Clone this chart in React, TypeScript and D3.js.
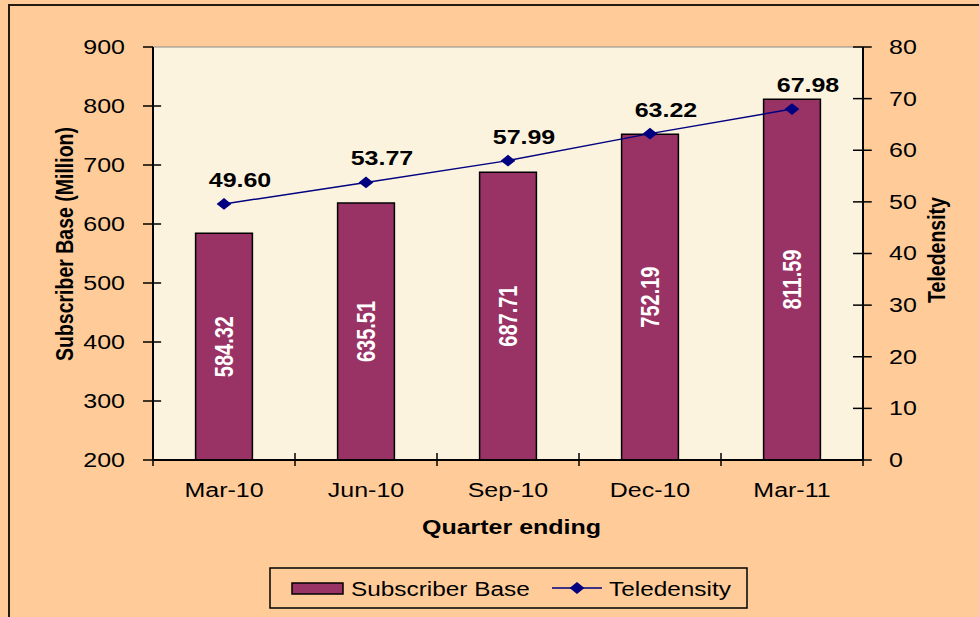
import React from "react";
import * as d3 from "d3";

const categories = ["Mar-10", "Jun-10", "Sep-10", "Dec-10", "Mar-11"];
const subscriberBase = [584.32, 635.51, 687.71, 752.19, 811.59];
const teledensity = [49.6, 53.77, 57.99, 63.22, 67.98];
const leftTicks = [200, 300, 400, 500, 600, 700, 800, 900];
const rightTicks = [0, 10, 20, 30, 40, 50, 60, 70, 80];

const SX = 1.25; // horizontal stretch of the original image
const PW = 979;
const PH = 617;
const W = PW / SX;

const FONT = "'Liberation Sans', Arial, Helvetica, sans-serif";
const PEACH = "#FFCC99";
const PLOT_BG = "#FCF3DF";
const BAR = "#993366";
const LINE = "#000080";

export default function App() {
  const L = 153 / SX;
  const R = 863 / SX;
  const T = 47;
  const B = 460;

  const x = d3.scaleBand<string>().domain(categories).range([L, R]).paddingInner(0.6).paddingOuter(0.3);
  const step = x.step();
  const yL = d3.scaleLinear().domain([200, 900]).range([B, T]);
  const yR = d3.scaleLinear().domain([0, 80]).range([B, T]);
  const cx = (c: string) => (x(c) as number) + x.bandwidth() / 2;

  const line = d3
    .line<number>()
    .x((_, i) => cx(categories[i]))
    .y((d) => yR(d));
  const diamond = d3.symbol().type(d3.symbolSquare).size(70)();

  const tk = 7;
  const boundaries = d3.range(categories.length + 1).map((i) => L + i * step);

  return (
    <svg
      width={PW}
      height={PH}
      viewBox={`0 0 ${W} ${PH}`}
      preserveAspectRatio="none"
      style={{ position: "absolute", left: 0, top: 0, display: "block" }}
      fontFamily={FONT}
    >
      <rect x={0} y={0} width={W} height={PH} fill={PEACH} />
      <rect x={9 / SX} y={5} width={W + 20} height={PH + 20} fill="none" stroke="#231a12" strokeWidth={2} vectorEffect="non-scaling-stroke" />

      {/* plot area */}
      <rect x={L} y={T} width={R - L} height={B - T} fill={PLOT_BG} />
      <line x1={L} x2={R} y1={T} y2={T} stroke="#8a8a8a" strokeWidth={1} vectorEffect="non-scaling-stroke" />

      {/* bars */}
      {categories.map((c, i) => (
        <rect
          key={c}
          x={x(c)}
          y={yL(subscriberBase[i])}
          width={x.bandwidth()}
          height={B - yL(subscriberBase[i])}
          fill={BAR}
          stroke="#000"
          strokeWidth={1.5}
          vectorEffect="non-scaling-stroke"
        />
      ))}
      {categories.map((c, i) => {
        const yc = (yL(subscriberBase[i]) + B) / 2;
        return (
          <text
            key={c}
            transform={`translate(${cx(c)},${yc}) rotate(-90)`}
            textAnchor="middle"
            dy="0.35em"
            fontSize={20}
            fontWeight="bold"
            fill="#fff"
          >
            {subscriberBase[i].toFixed(2)}
          </text>
        );
      })}

      {/* axes */}
      <line x1={L} x2={L} y1={T} y2={B} stroke="#000" strokeWidth={2} vectorEffect="non-scaling-stroke" />
      <line x1={R} x2={R} y1={T} y2={B} stroke="#000" strokeWidth={2} vectorEffect="non-scaling-stroke" />
      <line x1={L} x2={R} y1={B} y2={B} stroke="#000" strokeWidth={2} vectorEffect="non-scaling-stroke" />
      {leftTicks.map((t) => (
        <g key={t}>
          <line x1={L - 8} x2={L + (t === 900 ? 0 : 6.5)} y1={yL(t)} y2={yL(t)} stroke="#000" strokeWidth={1.5} vectorEffect="non-scaling-stroke" />
          <text x={125 / SX} y={yL(t)} dy="0.35em" textAnchor="end" fontSize={20} fill="#000">
            {t}
          </text>
        </g>
      ))}
      {rightTicks.map((t) => (
        <g key={t}>
          <line x1={R - 8} x2={R + 7} y1={yR(t)} y2={yR(t)} stroke="#000" strokeWidth={1.5} vectorEffect="non-scaling-stroke" />
          <text x={889 / SX} y={yR(t)} dy="0.35em" textAnchor="start" fontSize={20} fill="#000">
            {t}
          </text>
        </g>
      ))}
      {boundaries.map((bx, i) => (
        <line key={i} x1={bx} x2={bx} y1={B - tk} y2={B + 6} stroke="#000" strokeWidth={1.5} vectorEffect="non-scaling-stroke" />
      ))}
      {categories.map((c) => (
        <text key={c} x={cx(c)} y={497} textAnchor="middle" fontSize={20} fill="#000">
          {c}
        </text>
      ))}

      {/* titles */}
      <text x={511.5 / SX} y={534} textAnchor="middle" fontSize={20} fontWeight="bold" fill="#000">
        Quarter ending
      </text>
      <text transform={`translate(${73 / SX},${244}) rotate(-90)`} textAnchor="middle" fontSize={19.5} fontWeight="bold" fill="#000">
        Subscriber Base (Million)
      </text>
      <text transform={`translate(${945 / SX},${250}) rotate(-90)`} textAnchor="middle" fontSize={19.5} fontWeight="bold" fill="#000">
        Teledensity
      </text>

      {/* line */}
      <path d={line(teledensity) || ""} fill="none" stroke={LINE} strokeWidth={1.5} vectorEffect="non-scaling-stroke" />
      {teledensity.map((v, i) => (
        <path key={i} d={diamond || ""} transform={`translate(${cx(categories[i])},${yR(v)}) rotate(45)`} fill={LINE} />
      ))}
      {teledensity.map((v, i) => (
        <text key={i} x={cx(categories[i]) + 16 / SX} y={yR(v) - 17} textAnchor="middle" fontSize={20} fontWeight="bold" fill="#000">
          {v.toFixed(2)}
        </text>
      ))}

      {/* legend */}
      <rect x={270 / SX} y={568} width={(747 - 270) / SX} height={40} fill={PEACH} stroke="#000" strokeWidth={1.5} vectorEffect="non-scaling-stroke" />
      <rect x={292 / SX} y={583} width={51 / SX} height={11} fill={BAR} stroke="#000" strokeWidth={1.5} vectorEffect="non-scaling-stroke" />
      <text x={351 / SX} y={596} fontSize={19.5} fill="#000">
        Subscriber Base
      </text>
      <line x1={552 / SX} x2={602 / SX} y1={588} y2={588} stroke={LINE} strokeWidth={1.5} vectorEffect="non-scaling-stroke" />
      <path d={diamond || ""} transform={`translate(${577 / SX},${588}) rotate(45)`} fill={LINE} />
      <text x={609 / SX} y={596} fontSize={19.5} fill="#000">
        Teledensity
      </text>
    </svg>
  );
}
